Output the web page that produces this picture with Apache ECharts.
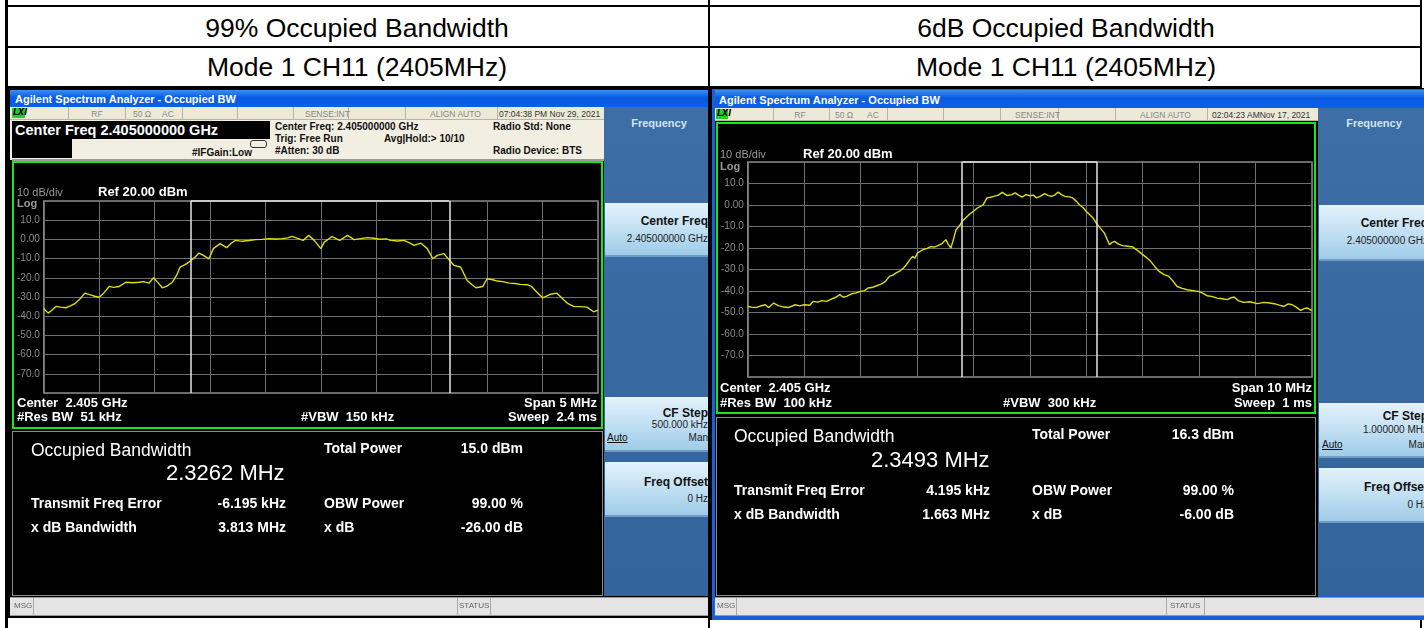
<!DOCTYPE html>
<html><head><meta charset="utf-8">
<script src="https://cdn.jsdelivr.net/npm/echarts@6/dist/echarts.min.js"></script>
<style>
html,body{margin:0;padding:0;width:1424px;height:628px;overflow:hidden;background:#fff;font-family:"Liberation Sans",Arial,sans-serif;}
.a{position:absolute;box-sizing:border-box;}
.t{position:absolute;white-space:pre;}
.title{background:linear-gradient(to bottom,#3d8ef5 0%,#0a5ae2 45%,#0b5fe8 100%);}
.stat{background:#ece9d8;border-bottom:1px solid #b8b4a0;}
.sep{position:absolute;top:0;width:1px;height:100%;background:#b8b4a0;}
.beige{background:#f2efe2;}
.panel{background:linear-gradient(to bottom,#3d6fa6 0%,#33659c 100%);}
.btn{background:linear-gradient(to bottom,#e4f2fb 0%,#c2e0f3 50%,#9fcbe8 100%);border-bottom:2px solid #6f9cc4;}
.meas{background:#000;border:1px solid #8a8a8a;}
.msg{background:#e4e4e4;border-top:1px solid #9a9a9a;border-bottom:1px solid #9a9a9a;}
.frame{background:#000;border:2px solid #19e619;}
</style>
</head><body>
<div id="root"></div>
<script>
// ---------------- data ----------------
const leftFreqMHz = [-2.50,-2.46,-2.43,-2.39,-2.35,-2.30,-2.26,-2.22,-2.17,-2.13,-2.08,-2.04,-2.00,-1.96,-1.91,-1.87,-1.82,-1.76,-1.70,-1.64,-1.60,-1.55,-1.51,-1.47,-1.43,-1.39,-1.34,-1.30,-1.27,-1.23,-1.19,-1.14,-1.10,-1.06,-1.01,-0.97,-0.94,-0.91,-0.85,-0.81,-0.77,-0.71,-0.65,-0.59,-0.53,-0.47,-0.41,-0.35,-0.30,-0.26,-0.21,-0.16,-0.11,-0.06,0.00,0.03,0.10,0.17,0.24,0.30,0.36,0.42,0.48,0.53,0.59,0.63,0.69,0.75,0.80,0.84,0.90,0.96,1.01,1.05,1.11,1.16,1.20,1.26,1.32,1.36,1.40,1.46,1.50,1.55,1.59,1.64,1.70,1.75,1.80,1.86,1.90,1.95,2.00,2.07,2.13,2.19,2.23,2.28,2.34,2.40,2.46,2.50];
const leftLevelDbm = [-36.1,-38.4,-37.0,-34.9,-35.3,-35.6,-34.6,-33.5,-30.8,-28.0,-28.9,-29.6,-30.1,-28.0,-24.5,-25.0,-24.5,-22.3,-22.6,-22.3,-22.0,-22.8,-20.0,-22.5,-25.2,-24.3,-22.3,-18.5,-14.4,-13.3,-11.8,-9.5,-7.1,-8.3,-10.1,-4.8,-3.5,-2.2,-4.3,-2.0,-0.5,-1.0,-0.6,-0.1,0.0,0.4,0.2,0.4,0.8,1.6,0.5,-0.5,2.1,-0.5,-4.8,-1.4,1.5,-0.5,2.1,-0.1,0.4,0.9,0.6,0.1,0.3,-0.5,-0.8,-0.5,-1.8,-3.1,-1.9,-4.8,-10.1,-8.3,-7.4,-10.9,-13.5,-14.4,-21.4,-23.5,-25.2,-24.5,-20.5,-21.0,-21.7,-22.0,-22.8,-23.0,-23.4,-23.6,-24.5,-27.5,-30.4,-28.6,-28.0,-31.4,-33.5,-34.9,-35.0,-35.3,-37.7,-36.8];
const leftObwEdgesMHz = [-1.174, 1.156];

const rightFreqMHz = [-5.00,-4.93,-4.86,-4.78,-4.69,-4.63,-4.54,-4.46,-4.39,-4.28,-4.16,-4.08,-4.00,-3.90,-3.84,-3.76,-3.69,-3.60,-3.54,-3.43,-3.37,-3.31,-3.25,-3.16,-3.08,-3.00,-2.93,-2.87,-2.80,-2.75,-2.63,-2.56,-2.49,-2.43,-2.37,-2.31,-2.25,-2.19,-2.13,-2.08,-2.04,-1.99,-1.90,-1.82,-1.75,-1.70,-1.64,-1.56,-1.49,-1.45,-1.40,-1.35,-1.31,-1.25,-1.20,-1.14,-1.08,-1.00,-0.93,-0.83,-0.76,-0.70,-0.64,-0.56,-0.49,-0.40,-0.32,-0.26,-0.20,-0.14,-0.07,0.00,0.06,0.12,0.19,0.26,0.32,0.38,0.44,0.50,0.56,0.62,0.70,0.76,0.82,0.88,0.94,1.00,1.06,1.12,1.18,1.23,1.28,1.32,1.37,1.41,1.45,1.50,1.57,1.64,1.73,1.82,1.90,2.00,2.07,2.14,2.22,2.29,2.37,2.46,2.54,2.61,2.70,2.79,2.89,2.99,3.06,3.14,3.22,3.32,3.41,3.50,3.56,3.62,3.70,3.79,3.90,4.03,4.15,4.25,4.33,4.42,4.50,4.58,4.65,4.72,4.80,4.86,4.91,4.96,5.00];
const rightLevelDbm = [-47.2,-47.5,-47.7,-47.0,-46.4,-47.7,-45.6,-46.8,-47.3,-47.7,-46.4,-46.9,-46.4,-46.6,-44.8,-45.2,-44.5,-44.8,-44.0,-42.8,-41.7,-42.9,-42.5,-41.3,-40.9,-40.2,-39.8,-38.6,-38.4,-37.9,-36.7,-35.5,-33.2,-32.6,-31.6,-30.8,-29.5,-27.8,-25.5,-23.9,-24.8,-22.3,-20.8,-20.2,-19.3,-19.6,-19.0,-18.0,-16.1,-18.2,-20.0,-15.5,-11.5,-9.8,-7.6,-6.0,-4.5,-2.9,-1.4,0.1,3.3,3.6,4.0,4.6,5.9,4.4,4.8,5.6,4.6,3.7,4.8,4.3,4.6,3.3,4.1,5.3,4.5,4.0,4.6,6.0,4.8,4.0,3.8,3.3,1.8,0.1,-1.2,-3.0,-4.5,-6.1,-8.5,-10.2,-11.8,-13.0,-16.0,-18.5,-17.5,-16.9,-18.2,-18.9,-19.2,-19.5,-21.0,-23.1,-24.5,-26.2,-28.8,-30.9,-32.3,-33.2,-35.5,-37.9,-38.8,-39.4,-39.8,-40.2,-41.0,-42.2,-42.5,-43.3,-43.6,-44.0,-43.2,-42.8,-44.6,-45.3,-45.0,-45.9,-45.3,-45.6,-45.9,-46.6,-47.2,-46.0,-46.4,-47.5,-49.0,-48.2,-47.9,-48.6,-49.0];
const rightObwEdgesMHz = [-1.197, 1.19];

const refLevelDbm = 20;
const bottomLevelDbm = -80;
const dbPerDiv = 10;

// ---------------- layout helpers ----------------
const root = document.getElementById('root');
function box(x,y,w,h,cls,style){const d=document.createElement('div');d.className='a '+(cls||'');Object.assign(d.style,{left:x+'px',top:y+'px',width:w+'px',height:h+'px'},style||{});root.appendChild(d);return d;}
function txt(x,cy,s,size,opt){opt=opt||{};const d=document.createElement('div');d.className='t';d.textContent=s;
  d.style.fontSize=size+'px';d.style.lineHeight=size+'px';d.style.top=(cy-size/2)+'px';
  d.style.color=opt.c||'#fff';d.style.fontWeight=opt.b?'bold':'normal';
  if(opt.f)d.style.fontFamily=opt.f;
  if(opt.u)d.style.textDecoration='underline';
  if(opt.r){d.style.right=(1424-x)+'px';}else if(opt.m){d.style.left=x+'px';d.style.transform='translateX(-50%)';}else d.style.left=x+'px';
  root.appendChild(d);return d;}

// ---------------- table ----------------
box(5,0,3,628,'',{background:'#000'});
box(708,0,2,628,'',{background:'#000'});
box(1420,0,2,628,'',{background:'#000'});
box(5,5,1417,2,'',{background:'#000'});
box(5,46,1417,2,'',{background:'#000'});
box(5,86,1417,2,'',{background:'#000'});
txt(357,28,'99% Occupied Bandwidth',26.5,{c:'#000',m:true});
txt(357,67,'Mode 1 CH11 (2405MHz)',26.5,{c:'#000',m:true});
txt(1066,28,'6dB Occupied Bandwidth',26.5,{c:'#000',m:true});
txt(1066,67,'Mode 1 CH11 (2405MHz)',26.5,{c:'#000',m:true});

// ---------------- left screenshot ----------------
box(8,88,700,530,'',{background:'#000'});
box(10,90,698,17,'title');
txt(15,99,'Agilent Spectrum Analyzer - Occupied BW',11,{b:true});
const ls=box(10,107,594,13,'stat');
[58,115,172,227,283,338,395,487].forEach(x=>{const s=document.createElement('div');s.className='sep';s.style.left=(x)+'px';ls.appendChild(s);});
box(12,108,13,10,'',{background:'#1fd21f'});
txt(13,113,'LXI',8,{c:'#000',b:true,f:'"DejaVu Sans"'}).style.fontStyle='italic';
txt(97,114,'RF',8.5,{c:'#888',m:true});
txt(133,114,'50 Ω',8.5,{c:'#888'});
txt(162,114,'AC',8.5,{c:'#888'});
txt(305,114,'SENSE:INT',8.5,{c:'#888'});
txt(430,114,'ALIGN AUTO',8.5,{c:'#888'});
txt(499,114,'07:04:38 PM Nov 29, 2021',8.5,{c:'#333'});
box(10,120,594,40,'beige');
box(12,121,258,18,'',{background:'#000'});
box(12,139,60,19,'',{background:'#000'});
txt(15,130,'Center Freq 2.405000000 GHz',14.5,{b:true});
box(250,140,17,8,'',{border:'1px solid #333',borderRadius:'3px'});
txt(192,153,'#IFGain:Low',10,{c:'#111',b:true});
txt(275,127,'Center Freq: 2.405000000 GHz',10,{c:'#111',b:true});
txt(275,139,'Trig: Free Run',10,{c:'#111',b:true});
txt(275,151,'#Atten: 30 dB',10,{c:'#111',b:true});
txt(384,139,'Avg|Hold:> 10/10',10,{c:'#111',b:true});
txt(493,127,'Radio Std: None',10,{c:'#111',b:true});
txt(493,151,'Radio Device: BTS',10,{c:'#111',b:true});
box(12,159,592,2,'',{background:'#9a9a9a'});
box(12,161,591,268,'frame');
const leftChartDiv = box(14,163,587,264,'');
txt(17,192,'10 dB/div',11,{c:'#9a9a9a'});
txt(98,191,'Ref 20.00 dBm',13,{b:true});
txt(17,203,'Log',11,{c:'#9a9a9a',b:true});
txt(17,402,'Center  2.405 GHz',13,{b:true});
txt(17,416,'#Res BW  51 kHz',13,{b:true});
txt(301,416,'#VBW  150 kHz',13,{b:true});
txt(597,402,'Span 5 MHz',13,{b:true,r:true});
txt(597,416,'Sweep  2.4 ms',13,{b:true,r:true});
box(12,431,591,165,'meas');
txt(31,451,'Occupied Bandwidth',17.5);
txt(166,473,'2.3262 MHz',22);
txt(324,448,'Total Power',14,{b:true});
txt(523,448,'15.0 dBm',14,{b:true,r:true});
txt(31,503,'Transmit Freq Error',14,{b:true});
txt(286,503,'-6.195 kHz',14,{b:true,r:true});
txt(324,503,'OBW Power',14,{b:true});
txt(523,503,'99.00 %',14,{b:true,r:true});
txt(31,527,'x dB Bandwidth',14,{b:true});
txt(286,527,'3.813 MHz',14,{b:true,r:true});
txt(324,527,'x dB',14,{b:true});
txt(523,527,'-26.00 dB',14,{b:true,r:true});
box(10,597,698,19,'msg');
box(33,598,1,17,'',{background:'#aaa'});box(457,598,1,17,'',{background:'#aaa'});box(490,598,1,17,'',{background:'#aaa'});
txt(14,606,'MSG',8,{c:'#666'});
txt(459,606,'STATUS',8,{c:'#666'});
box(604,107,104,489,'panel');
txt(659,123,'Frequency',11,{c:'#d6e4f2',b:true,m:true});
box(605,203,103,54,'btn');
txt(708,221,'Center Freq',12,{c:'#111',b:true,r:true});
txt(708,239,'2.405000000 GHz',10,{c:'#222',r:true});
box(605,397,103,55,'btn');
txt(708,413,'CF Step',12,{c:'#111',b:true,r:true});
txt(708,425,'500.000 kHz',10,{c:'#222',r:true});
txt(607,438,'Auto',10,{c:'#111',u:true});
txt(708,438,'Man',10,{c:'#222',r:true});
box(605,462,103,55,'btn');
txt(708,482,'Freq Offset',12,{c:'#111',b:true,r:true});
txt(708,499,'0 Hz',10,{c:'#222',r:true});

// ---------------- right screenshot ----------------
box(710,88,714,532,'',{background:'#000'});
box(712,89,712,531,'',{background:'#1c5fd8'});
box(715,90,709,18,'title');
txt(719,100,'Agilent Spectrum Analyzer - Occupied BW',11,{b:true});
const rs=box(715,108,603,13,'stat');
[58,114,172,228,285,343,400,492].forEach(x=>{const s=document.createElement('div');s.className='sep';s.style.left=(x)+'px';rs.appendChild(s);});
box(716,109,12,10,'',{background:'#1fd21f'});
txt(717,114,'LXI',8,{c:'#000',b:true,f:'"DejaVu Sans"'}).style.fontStyle='italic';
txt(800,115,'RF',8.5,{c:'#888',m:true});
txt(835,115,'50 Ω',8.5,{c:'#888'});
txt(867,115,'AC',8.5,{c:'#888'});
txt(1015,115,'SENSE:INT',8.5,{c:'#888'});
txt(1140,115,'ALIGN AUTO',8.5,{c:'#888'});
txt(1212,115,'02:04:23 AMNov 17, 2021',8.5,{c:'#333'});
box(715,121,603,495,'',{background:'#000'});
box(716,122,600,292,'frame');
const rightChartDiv = box(718,124,596,288,'');
txt(720,154,'10 dB/div',11,{c:'#9a9a9a'});
txt(803,153,'Ref 20.00 dBm',13,{b:true});
txt(720,166,'Log',11,{c:'#9a9a9a',b:true});
txt(720,387,'Center  2.405 GHz',13,{b:true});
txt(720,402,'#Res BW  100 kHz',13,{b:true});
txt(1003,402,'#VBW  300 kHz',13,{b:true});
txt(1312,387,'Span 10 MHz',13,{b:true,r:true});
txt(1312,402,'Sweep  1 ms',13,{b:true,r:true});
box(716,417,600,179,'meas');
txt(734,437,'Occupied Bandwidth',17.5);
txt(871,460,'2.3493 MHz',22);
txt(1032,434,'Total Power',14,{b:true});
txt(1234,434,'16.3 dBm',14,{b:true,r:true});
txt(734,490,'Transmit Freq Error',14,{b:true});
txt(990,490,'4.195 kHz',14,{b:true,r:true});
txt(1032,490,'OBW Power',14,{b:true});
txt(1234,490,'99.00 %',14,{b:true,r:true});
txt(734,514,'x dB Bandwidth',14,{b:true});
txt(990,514,'1.663 MHz',14,{b:true,r:true});
txt(1032,514,'x dB',14,{b:true});
txt(1234,514,'-6.00 dB',14,{b:true,r:true});
box(715,597,709,19,'msg');
box(736,598,1,17,'',{background:'#aaa'});box(1166,598,1,17,'',{background:'#aaa'});box(1204,598,1,17,'',{background:'#aaa'});
txt(717,606,'MSG',8,{c:'#666'});
txt(1170,606,'STATUS',8,{c:'#666'});
box(1318,108,106,488,'panel');
txt(1374,123,'Frequency',11,{c:'#d6e4f2',b:true,m:true});
box(1319,205,106,56,'btn');
txt(1428,223,'Center Freq',12,{c:'#111',b:true,r:true});
txt(1428,241,'2.405000000 GHz',10,{c:'#222',r:true});
box(1319,403,106,55,'btn');
txt(1428,416,'CF Step',12,{c:'#111',b:true,r:true});
txt(1428,430,'1.000000 MHz',10,{c:'#222',r:true});
txt(1322,445,'Auto',10,{c:'#111',u:true});
txt(1428,445,'Man',10,{c:'#222',r:true});
box(1319,468,106,55,'btn');
txt(1428,487,'Freq Offset',12,{c:'#111',b:true,r:true});
txt(1428,505,'0 Hz',10,{c:'#222',r:true});

// ---------------- charts ----------------
function yLabel(v){ if(v>=refLevelDbm||v<=bottomLevelDbm) return ''; return v===0?'0.00':v.toFixed(1); }
function makeOption(freq, level, edges, span, grid){
  const half = span/2;
  return {
    animation:false,
    backgroundColor:'#000',
    grid:Object.assign({show:true,borderColor:'#8a8a8a',borderWidth:1.5,backgroundColor:'transparent'},grid),
    xAxis:{type:'value',min:-half,max:half,interval:span/10,
      axisLine:{show:false},axisTick:{show:false},axisLabel:{show:false},
      splitLine:{show:true,lineStyle:{color:'#6f6f6f',width:1}}},
    yAxis:{type:'value',min:bottomLevelDbm,max:refLevelDbm,interval:dbPerDiv,
      axisLine:{show:false},axisTick:{show:false},
      axisLabel:{show:true,formatter:yLabel,color:'#8c8c8c',fontSize:10,margin:4,fontFamily:'Liberation Sans'},
      splitLine:{show:true,lineStyle:{color:'#6f6f6f',width:1}}},
    series:[{type:'line',data:freq.map((f,i)=>[f,level[i]]),showSymbol:false,
      lineStyle:{color:'#dede10',width:1.4},
      markLine:{silent:true,symbol:'none',label:{show:false},
        lineStyle:{color:'#e6e6e6',width:1.5,type:'solid'},
        data:[{xAxis:edges[0]},{xAxis:edges[1]},
          [{coord:[edges[0],refLevelDbm]},{coord:[edges[1],refLevelDbm]}]]}}]
  };
}
const lc = echarts.init(leftChartDiv);
lc.setOption(makeOption(leftFreqMHz,leftLevelDbm,leftObwEdgesMHz,5,{left:27,top:38,width:557,height:192}));
const rc = echarts.init(rightChartDiv);
rc.setOption(makeOption(rightFreqMHz,rightLevelDbm,rightObwEdgesMHz,10,{left:26,top:38,width:568,height:215}));
</script>
</body></html>
